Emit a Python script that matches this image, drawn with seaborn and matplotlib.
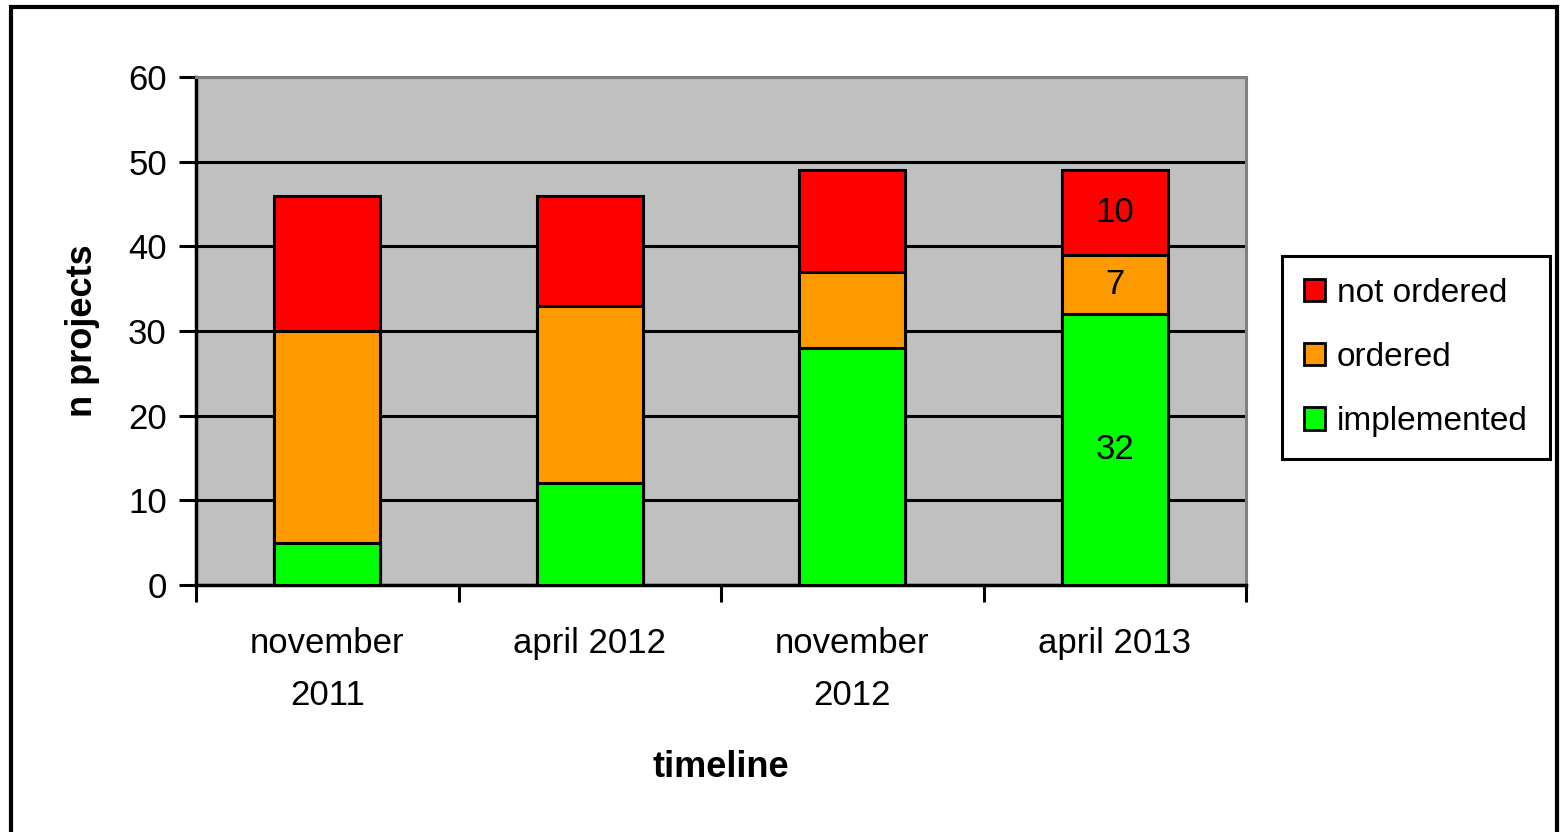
import matplotlib
matplotlib.use("Agg")
import matplotlib.pyplot as plt
from matplotlib.patches import Rectangle, Patch
import seaborn as sns
import numpy as np
import pandas as pd

categories = ["november\n2011", "april 2012", "november\n2012", "april 2013"]
implemented = [5, 12, 28, 32]
ordered = [25, 21, 9, 7]
not_ordered = [16, 13, 12, 10]
series_names = ["not ordered", "ordered", "implemented"]
colors = {"not ordered": "#FF0000", "ordered": "#FF9900", "implemented": "#00FF00"}

sns.set_theme(style="white")
plt.rcParams["font.family"] = ["Liberation Sans", "DejaVu Sans"]
for k in ["text.color", "axes.labelcolor", "xtick.color", "ytick.color"]:
    plt.rcParams[k] = "black"

W, H, DPI = 1562, 832, 100
fig = plt.figure(figsize=(W / DPI, H / DPI), dpi=DPI)
ax = fig.add_axes([196 / W, 1 - 585 / H, (1246 - 196) / W, (585 - 77) / H])
ax.set_facecolor("#C0C0C0")

impl = np.array(implemented)
ordc = impl + np.array(ordered)
tot = ordc + np.array(not_ordered)
df = pd.DataFrame({"cat": categories, "impl": impl, "ord": ordc, "tot": tot})

for col, name in [("tot", "not ordered"), ("ord", "ordered"), ("impl", "implemented")]:
    sns.barplot(data=df, x="cat", y=col, color=colors[name], saturation=1,
                width=0.405, edgecolor="black", linewidth=2.2, ax=ax, zorder=3)

ax.set_ylim(0, 60)
ax.set_xlim(-0.5, 3.5)
ax.set_yticks(np.arange(0, 61, 10))
ax.yaxis.grid(True, color="black", linewidth=2.2, zorder=1)
ax.set_axisbelow(True)
ax.tick_params(axis="y", labelsize=25, length=12, width=2.2, color="black",
               direction="out", pad=9, left=True)

ax.set_xticks([-0.5, 0.5, 1.5, 2.5, 3.5])
ax.set_xticklabels([])
ax.tick_params(axis="x", which="major", length=12, width=2.2, color="black",
               direction="out", bottom=True)
ax.set_xticks(range(len(categories)), minor=True)
ax.set_xticklabels(categories, minor=True, fontsize=25, linespacing=1.75)
ax.tick_params(axis="x", which="minor", length=0, pad=30)

for s in ["top", "right"]:
    ax.spines[s].set_color("#808080")
    ax.spines[s].set_linewidth(2.2)
for s in ["left", "bottom"]:
    ax.spines[s].set_color("black")
    ax.spines[s].set_linewidth(2.5)

ax.set_xlabel("timeline", fontsize=26, fontweight="bold", labelpad=27)
ax.set_ylabel("n projects", fontsize=26, fontweight="bold", labelpad=20)

# value labels on last bar
last = len(categories) - 1
ax.text(last, impl[last] / 2, str(implemented[last]), ha="center", va="center", fontsize=25, zorder=5)
ax.text(last, impl[last] + ordered[last] / 2, str(ordered[last]), ha="center", va="center", fontsize=25, zorder=5)
ax.text(last, ordc[last] + not_ordered[last] / 2, str(not_ordered[last]), ha="center", va="center", fontsize=25, zorder=5)

handles = [Patch(facecolor=colors[n], edgecolor="black", linewidth=2) for n in series_names]
leg = fig.legend(handles, series_names, loc="upper left",
                 bbox_to_anchor=(1282 / W, 1 - 256 / H), fontsize=24,
                 frameon=True, fancybox=False, edgecolor="black", framealpha=1,
                 handlelength=0.65, handleheight=0.65, handletextpad=0.35,
                 labelspacing=1.0, borderpad=0.65, borderaxespad=0)
leg.get_frame().set_linewidth(2.2)

fig.patches.append(Rectangle((11 / W, -0.01), (1557 - 11) / W, 1 - 7 / H + 0.01,
                             transform=fig.transFigure, fill=False,
                             edgecolor="black", linewidth=3))

fig.savefig("out.png", dpi=DPI, facecolor="white")
